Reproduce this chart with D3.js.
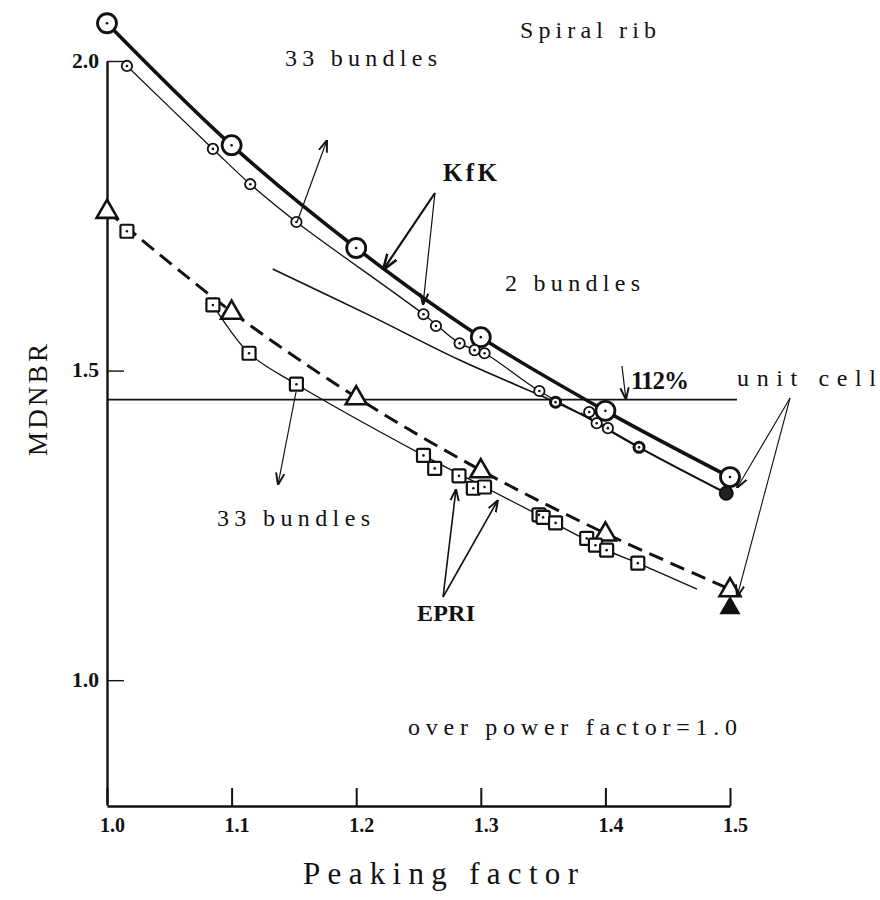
<!DOCTYPE html>
<html>
<head>
<meta charset="utf-8">
<script src="https://cdn.jsdelivr.net/npm/d3@7/dist/d3.min.js"></script>
<style>
  html, body { margin: 0; padding: 0; background: #fff; }
  svg { display: block; }
  .lbl { font-family: "Liberation Serif", "DejaVu Serif", serif; fill: #111; }
</style>
</head>
<body>
<svg id="chart" width="880" height="900"></svg>
<script>
// ---- data (peaking factor vs MDNBR, spiral-rib bundles) ----
const xTicks = [1.0, 1.1, 1.2, 1.3, 1.4, 1.5];
const yTicks = [1.0, 1.5, 2.0];

// KfK unit-cell results (thick line, large circles)
const kfkX = [1.0, 1.1, 1.2, 1.3, 1.4, 1.5];
const kfkY = [2.061, 1.864, 1.698, 1.554, 1.435, 1.328];

// KfK 33-bundle points (small circles)
const kfk33X = [1.016, 1.085, 1.115, 1.152, 1.254, 1.264, 1.283, 1.295, 1.303, 1.347, 1.387, 1.393, 1.402];
const kfk33Y = [1.992, 1.858, 1.801, 1.740, 1.591, 1.572, 1.544, 1.533, 1.528, 1.467, 1.433, 1.415, 1.407];
// fitted curve through the 33-bundle KfK points
const kfk33CurveX = [1.016, 1.085, 1.115, 1.152, 1.254, 1.283, 1.303, 1.347, 1.400];
const kfk33CurveY = [1.992, 1.858, 1.801, 1.740, 1.591, 1.544, 1.528, 1.467, 1.410];
// lower branch towards the unit-cell value at 1.5
const tailCurveX = [1.380, 1.427, 1.497];
const tailCurveY = [1.431, 1.376, 1.302];

// 2-bundle results (dark circles) and their curve
const kfk2X = [1.360, 1.427];
const kfk2Y = [1.449, 1.376];
const kfk2CurveX = [1.133, 1.210, 1.283, 1.360, 1.390];
const kfk2CurveY = [1.664, 1.590, 1.517, 1.449, 1.420];

// unit-cell values at peaking factor 1.5 (filled marks)
const unitCircleX = [1.497];
const unitCircleY = [1.302];
const unitTriX = [1.5];
const unitTriY = [1.118];

// EPRI unit-cell results (dashed line, triangles)
const epriX = [1.0, 1.1, 1.2, 1.3, 1.4, 1.5];
const epriY = [1.758, 1.595, 1.457, 1.339, 1.237, 1.147];

// EPRI 33-bundle points (squares)
const epri33X = [1.016, 1.085, 1.114, 1.152, 1.254, 1.263, 1.2825, 1.294, 1.303, 1.3467, 1.350, 1.360, 1.385, 1.392, 1.401, 1.426];
const epri33Y = [1.725, 1.606, 1.528, 1.478, 1.363, 1.342, 1.330, 1.310, 1.312, 1.267, 1.263, 1.254, 1.229, 1.218, 1.210, 1.189];
const epri33CurveX = [1.085, 1.114, 1.152, 1.254, 1.303, 1.350, 1.401, 1.426, 1.4735];
const epri33CurveY = [1.606, 1.528, 1.478, 1.363, 1.312, 1.263, 1.210, 1.189, 1.147];

// 112 % reference level
const refLevel = 1.453;
const refRange = [1.0, 1.5056];

// ---- drawing ----
const svg = d3.select("#chart");
const x = d3.scaleLinear().domain([1.0, 1.5]).range([107, 730]);
const y = d3.scaleLinear().domain([0.8, 2.0]).range([804, 61]);

const zip = (xs, ys) => xs.map((v, i) => [v, ys[i]]);
const line = d3.line().x(d => x(d[0])).y(d => y(d[1])).curve(d3.curveCatmullRom.alpha(0.5));
const straight = d3.line().x(d => x(d[0])).y(d => y(d[1]));

// arrowheads
const defs = svg.append("defs");
function marker(id, size) {
  defs.append("marker").attr("id", id).attr("viewBox", "0 -5 10 10")
    .attr("refX", 10).attr("refY", 0).attr("markerWidth", size).attr("markerHeight", size)
    .attr("markerUnits", "userSpaceOnUse").attr("orient", "auto")
    .append("path").attr("d", "M0,-3.5L10,0L0,3.5").attr("fill", "none")
    .attr("stroke", "#111").attr("stroke-width", 1.6);
}
marker("arr", 12);
marker("arrB", 16);

// axes
const xAxis = d3.axisBottom(x).tickValues(xTicks).tickFormat(d3.format(".1f"))
  .tickSize(-18).tickSizeOuter(0).tickPadding(12);
const gx = svg.append("g").attr("transform", `translate(0,${y(0.8) + 2})`).call(xAxis);
gx.select(".domain").attr("stroke", "#111").attr("stroke-width", 2.6);
gx.selectAll(".tick line").attr("stroke", "#111").attr("stroke-width", 2);
gx.selectAll(".tick text").attr("class", "lbl").attr("font-size", 20).attr("font-weight", "bold")
  .attr("dx", 5).attr("fill", "#111").attr("textLength", 25).attr("lengthAdjust", "spacingAndGlyphs");

const yAxis = d3.axisLeft(y).tickValues(yTicks).tickFormat(d3.format(".1f"))
  .tickSize(-17).tickSizeOuter(0).tickPadding(8);
const gy = svg.append("g").attr("transform", `translate(${x(1.0)},0)`).call(yAxis);
gy.select(".domain").attr("stroke", "#111").attr("stroke-width", 2.4);
gy.selectAll(".tick line").attr("stroke", "#111").attr("stroke-width", 1.4);
gy.selectAll(".tick text").attr("class", "lbl").attr("font-size", 20).attr("font-weight", "bold")
  .attr("fill", "#111").attr("textLength", 27).attr("lengthAdjust", "spacingAndGlyphs");

// reference line
svg.append("path").attr("d", straight([[refRange[0], refLevel], [refRange[1], refLevel]]))
  .attr("fill", "none").attr("stroke", "#111").attr("stroke-width", 1.8);

// curves
svg.append("path").attr("d", line(zip(kfkX, kfkY)))
  .attr("fill", "none").attr("stroke", "#111").attr("stroke-width", 3.6);
svg.append("path").attr("d", line(zip(kfk33CurveX, kfk33CurveY)))
  .attr("fill", "none").attr("stroke", "#111").attr("stroke-width", 1.3);
svg.append("path").attr("d", line(zip(tailCurveX, tailCurveY)))
  .attr("fill", "none").attr("stroke", "#111").attr("stroke-width", 2.2);
svg.append("path").attr("d", line(zip(kfk2CurveX, kfk2CurveY)))
  .attr("fill", "none").attr("stroke", "#111").attr("stroke-width", 1.6);
svg.append("path").attr("d", line(zip(epriX, epriY)))
  .attr("fill", "none").attr("stroke", "#111").attr("stroke-width", 3)
  .attr("stroke-dasharray", "15,8");
svg.append("path").attr("d", line(zip(epri33CurveX, epri33CurveY)))
  .attr("fill", "none").attr("stroke", "#111").attr("stroke-width", 1.3);

// markers
function dots(xs, ys) {
  svg.append("g").selectAll("circle").data(zip(xs, ys)).join("circle")
    .attr("cx", d => x(d[0])).attr("cy", d => y(d[1])).attr("r", 1.3).attr("fill", "#111");
}
function circles(xs, ys, r, sw, fill) {
  svg.append("g").selectAll("circle").data(zip(xs, ys)).join("circle")
    .attr("cx", d => x(d[0])).attr("cy", d => y(d[1])).attr("r", r)
    .attr("fill", fill).attr("stroke", "#111").attr("stroke-width", sw);
}
function squares(xs, ys, s) {
  svg.append("g").selectAll("rect").data(zip(xs, ys)).join("rect")
    .attr("x", d => x(d[0]) - s / 2).attr("y", d => y(d[1]) - s / 2)
    .attr("width", s).attr("height", s).attr("rx", 1.5)
    .attr("fill", "#fff").attr("stroke", "#111").attr("stroke-width", 2.2);
}
const tri = d3.symbol().type(d3.symbolTriangle);
function triangles(xs, ys, area, fill) {
  svg.append("g").selectAll("path").data(zip(xs, ys)).join("path")
    .attr("transform", d => `translate(${x(d[0])},${y(d[1]) + 1})`)
    .attr("d", tri.size(area)())
    .attr("fill", fill).attr("stroke", "#111").attr("stroke-width", 2.6).attr("stroke-linejoin", "miter");
}

circles(kfkX, kfkY, 9.5, 2.8, "#fff");
dots(kfkX, kfkY);
circles(kfk33X, kfk33Y, 5.2, 1.8, "#fff");
dots(kfk33X, kfk33Y);
circles(kfk2X, kfk2Y, 5, 3, "#fff");
dots(kfk2X, kfk2Y);
circles(unitCircleX, unitCircleY, 6.5, 2, "#222");
triangles(epriX, epriY, 190, "#fff");
squares(epri33X, epri33Y, 13);
dots(epri33X, epri33Y);
triangles(unitTriX, unitTriY, 120, "#111");

// annotation arrows (data coordinates)
function arrow(pts, sw, mk) {
  svg.append("path").attr("d", straight(pts)).attr("fill", "none")
    .attr("stroke", "#111").attr("stroke-width", sw).attr("marker-end", `url(#${mk})`);
}
arrow([[1.1525, 1.740], [1.1766, 1.8724]], 1.2, "arr");
arrow([[1.2632, 1.7868], [1.2215, 1.6624]], 2.2, "arrB");
arrow([[1.2632, 1.7868], [1.2536, 1.6059]], 1.2, "arr");
arrow([[1.4133, 1.5074], [1.4165, 1.4530]], 1.2, "arr");
arrow([[1.5482, 1.4557], [1.5056, 1.3104]], 1.1, "arr");
arrow([[1.5482, 1.4557], [1.5056, 1.1343]], 1.1, "arr");
arrow([[1.1517, 1.4654], [1.1372, 1.3152]], 1.2, "arr");
arrow([[1.2697, 1.1343], [1.2801, 1.3087]], 1.6, "arr");
arrow([[1.2697, 1.1343], [1.3138, 1.2910]], 1.6, "arr");

// text
function text(str, px, py, size, width, opts = {}) {
  const t = svg.append("text").attr("class", "lbl").attr("x", px).attr("y", py)
    .attr("font-size", size).text(str);
  if (width) t.attr("textLength", width).attr("lengthAdjust", "spacing");
  if (opts.bold) t.attr("font-weight", "bold");
  if (opts.anchor) t.attr("text-anchor", opts.anchor);
  return t;
}
text("Spiral rib", 520, 38, 24, 136);
text("33 bundles", 285, 66, 24, 152);
text("KfK", 443, 181, 25, 54, { bold: true });
text("2 bundles", 505, 291, 24, 135);
text("112%", 631, 389, 25, 58, { bold: true });
text("unit cell", 737, 386, 24, 139);
text("33 bundles", 217, 526, 24, 153);
text("EPRI", 417, 621, 24, 58, { bold: true });
text("over power factor=1.0", 408, 735, 24, 329);
text("Peaking factor", 303, 884, 31, 275);
svg.append("text").attr("class", "lbl").attr("font-size", 27)
  .attr("transform", "translate(47,400) rotate(-90)").attr("text-anchor", "middle")
  .attr("textLength", 112).attr("lengthAdjust", "spacing").text("MDNBR");
</script>
</body>
</html>
